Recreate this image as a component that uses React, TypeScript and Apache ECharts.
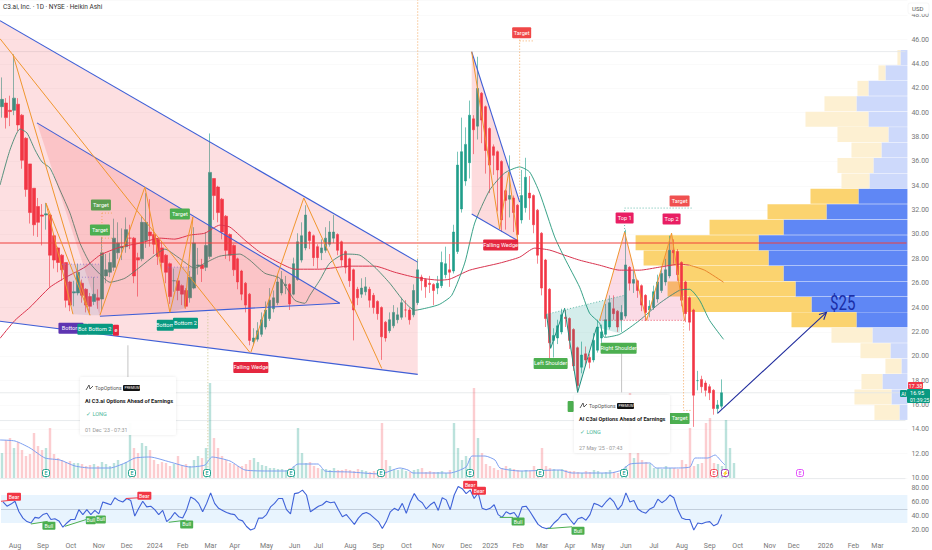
import React, { useEffect, useRef } from "react";
import * as echarts from "echarts";

const FONT = "Roboto, 'Liberation Sans', sans-serif";
const SLOTS = 227;
const UP = "#1f9e8a";
const DOWN = "#f23645";

const monthTicks: [number, string][] = [
  [3, "Aug"], [10, "Sep"], [17, "Oct"], [24, "Nov"], [31, "Dec"], [38, "2024"], [45, "Feb"], [52, "Mar"], [58, "Apr"],
  [66, "May"], [73, "Jun"], [79, "Jul"], [87, "Aug"], [94, "Sep"], [101, "Oct"], [109, "Nov"], [116, "Dec"], [122, "2025"],
  [129, "Feb"], [135, "Mar"], [142, "Apr"], [149, "May"], [156, "Jun"], [163, "Jul"], [170, "Aug"], [177, "Sep"],
  [184, "Oct"], [192, "Nov"], [198, "Dec"], [206, "2026"], [213, "Feb"], [219, "Mar"],
];

// open, close, low, high (Heikin Ashi, one candle per about three sessions)
const candles: number[][] = [
  [40.5,41.1,39.6,42.9],[40.8,39.6,38.7,41.2],[40.2,40.1,38.9,41.4],[40.2,41.2,39.8,44.8],[40.7,39,38.5,41.2],[39.8,36.1,35.4,39.9],
  [37.9,33.7,33.1,38],[35.8,31.8,30.9,35.8],[33.8,30.8,29.9,33.8],[32.3,31,29.8,33],[31.6,31.5,29.1,32.5],[31.6,31.7,30.4,32.6],
  [31.6,28.3,25.7,31.7],[29.9,27.9,27.2,30],[28.9,27.7,26.9,29],[28.3,27.1,26.2,28.4],[27.7,24.6,24,27.7],[26.1,24.2,23.7,26.2],
  [25.2,25.3,24.1,26.2],[25.2,26.9,25,27.6],[26,25,24.4,26.3],[25.5,24.2,23.6,25.6],[24.9,24.1,23.6,25.2],[24.5,25.1,24.2,26.5],
  [24.8,24.6,23.9,25.5],[24.7,28.5,23.7,29.8],[26.6,27.1,26,28.4],[26.9,27.7,26.5,28.5],[27.3,29.7,27,31.3],[28.5,29.3,28,31],
  [28.9,29,27.9,30.5],[29,30.4,28.5,31.4],[29.7,29.7,28.8,30.8],[29.7,26.6,26,29.8],[28.1,27.9,24.9,28.5],[28,31,27.8,31.5],
  [29.5,31,28.9,33.4],[30.2,29.9,29,32.9],[30,29.2,28.4,30.4],[29.6,28.2,27.5,29.7],[28.9,27.7,27.1,29.4],[28.3,26.9,26,28.4],
  [27.6,24.9,24.3,27.7],[26.2,26.2,25.3,27.2],[26.2,25.4,24.6,26.4],[25.8,25.1,24.2,25.9],[25.4,24.1,23.9,25.6],[24.8,26.5,24.4,27],
  [25.6,29.3,25.5,30.6],[27.4,27.5,26.7,28.9],[27.5,27.2,26.1,28],[27.3,29.1,27,30.2],[28.2,35.1,28,38.3],[34.6,33.2,31.2,34.6],
  [33.9,31.8,31,34],[32.9,30.2,29.6,33],[31.5,28.7,28,31.6],[30,28.3,27.8,30.1],[29.1,27.1,26.6,29.2],[28,26.1,25.5,28.1],
  [27,25.1,24.6,27.1],[26,24.2,23.6,26.1],[25.1,21.3,20.9,25.2],[21.2,21.5,20.9,22.3],[21.4,22.1,21.2,22.8],[21.8,23,21.6,23.6],
  [22.4,23.8,22.2,24.5],[23.1,24.6,22.9,25.6],[23.9,24.8,23.6,25.4],[24.4,26.1,24.2,26.7],[25.2,26.3,25,27],[25.8,25.9,25.1,26.6],
  [25.9,24.3,23.8,26],[25.1,27.6,25,28.1],[26.3,29.4,26.2,30.1],[27.9,29.9,27.7,31],[28.9,31.6,28.7,32.4],[30.2,29.5,28.8,30.3],
  [29.9,28.1,27.4,30],[29,28.1,27.2,29.2],[28.5,28.9,27.9,29.6],[28.7,29.7,28.5,30.6],[29.2,30.2,29,31.1],[29.7,30.2,29.3,31.6],
  [30,28.7,28.3,30.1],[29.4,27.9,27.4,29.5],[28.6,27.3,26.8,28.7],[28,26.2,25.7,28.1],[27.1,23.8,21.3,27.2],[25.5,24.8,24.2,25.7],
  [25.1,25.6,24.8,26.4],[25.3,25.7,25,26.5],[25.5,24.6,24,25.7],[25,24,23.5,25.2],[24.5,23.5,23,24.6],[24,21.6,19.7,24.1],
  [22.8,21.5,21.2,22.9],[22.1,23,21.9,23.6],[22.5,23.6,22.3,24.2],[23,23.4,22.7,24],[23.2,24.4,23,24.8],[23.8,23.8,23.2,24.6],
  [23.8,23,22.6,24],[23.4,25.4,23.2,25.9],[24.4,27.1,24.2,28],[26.5,26.2,25.4,26.7],[26.3,25.7,24.8,26.4],[26,25.9,25.2,26.6],
  [25.9,25.4,24.2,26],[25.6,26,25.1,26.6],[25.8,27.7,25.6,28.6],[26.7,27.6,26.4,29],[27.1,26.9,25.7,28.4],[27,30.2,26.8,30.8],
  [28.6,35.7,28.4,36.8],[32.1,36.8,31.8,39.6],[34.4,37.4,34,38.8],[35.9,39.8,34.6,41],[39.5,38.6,36.6,39.8],[38.9,42,37.8,44.6],
  [41.6,39.4,37.5,41.7],[40.5,36.9,35,40.6],[38.7,35.7,33.4,38.8],[37.2,36.5,34.9,37.4],[36.8,35.3,31.9,36.9],[36,31.2,30.2,36.1],
  [33.6,32.8,30.4,33.7],[32.9,33.2,31.4,36.5],[33,31.8,30.2,33.2],[32.4,30,29.6,32.5],[31.2,33.2,30.9,35.3],[32.2,34.7,31.8,36.3],
  [33.4,33,31.2,34.8],[33.2,30.8,30.1,33.3],[32,28.3,27.6,32.1],[30.1,25.6,25,30.2],[27.9,23.1,22.4,28],[25.5,21.1,19.6,25.6],
  [21.3,21.7,19.9,22.3],[21.5,22.5,21,23],[22,23.4,21.8,23.9],[23.2,23.1,22.4,23.8],[23.1,21.3,20.6,23.2],[22.2,19.2,18.8,22.3],
  [20.7,17.6,17.1,20.8],[19.1,20.1,18.6,21.2],[20.2,19.7,19.2,20.8],[19.9,19.5,19,20.2],[19.7,21.3,19.5,21.9],[20.5,22.4,20.3,23],
  [21.5,22,21.1,22.6],[21.8,23,21.6,24.3],[22.4,24.4,22.2,25],[23.9,23.5,23,25],[23.7,22.4,22,23.8],[23,23.6,22,24.2],
  [23.3,27.5,23.1,30.4],[27.3,26,25.4,27.4],[26,26.3,25.2,27],[26.2,25.4,24.8,26.3],[25.8,24.2,23.7,25.9],[25,23.6,22.9,25.1],
  [23.8,24.1,23.2,24.6],[24,25.3,23.8,25.8],[24.7,26.1,24.4,26.7],[25.4,26.8,25.2,27.4],[26.1,27.1,25.8,28],[26.6,28.7,26.4,29.9],
  [28.7,28.5,27.6,29.6],[28.6,26.7,26.2,28.8],[27.7,24.6,24.1,27.8],[26.1,23.5,22.8,26.2],[24.8,22.8,22.1,24.9],[23.8,16.8,14.2,23.9],
  [18,18,17.2,18.8],[18.1,17.5,17,18.4],[17.8,17.2,16.7,18],[17.5,17,16.4,17.7],[17.2,15.7,15.2,17.3],[15.7,16,15.3,16.4],[15.9,17,15.7,18.1],
];

const volumes: number[] = [
  25,38,40,30,36,28,22,24,45,32,28,30,50,24,20,18,16,17,15,15,14,12,13,14,12,16,14,12,15,18,14,16,
  55,30,25,35,32,28,18,14,16,15,12,14,22,13,14,12,18,22,20,30,95,40,30,22,18,15,14,12,12,14,18,20,
  16,13,12,10,10,9,9,8,10,12,50,25,15,16,12,10,9,9,8,10,8,8,9,8,7,9,8,7,6,7,8,55,
  18,12,8,8,9,7,6,8,9,10,6,7,6,6,7,5,8,55,30,18,22,20,90,40,25,14,12,10,8,10,12,10,
  9,8,7,8,7,12,9,30,12,10,9,8,9,8,7,7,6,5,7,6,8,7,5,6,8,6,5,6,12,85,20,25,
  18,16,14,10,10,9,12,10,10,9,18,14,50,12,14,15,55,60,15,14,12,58,30,15,
];

const volumeMa: number[][] = [
  [0,38],[3.75,37],[7.5,30],[11.25,20],[15,18],[18.75,12],[22.5,10],[27.5,10],[31.25,15],[33.75,20],[37.5,21],[42.5,16],[47.5,11],
  [51.25,13],[53,21],[57.5,17],[61.25,8],[67.5,7],[72,7],[74.5,14],[79.5,14],[81.25,7],[87.5,6],[95,4],[100,10],[102,8],[103.25,5],
  [112.5,5],[116.5,11],[118,22],[121.25,22],[123.75,18],[125,10],[130,7],[140,8],[143,5],[152.5,5],[155.5,8],[157.5,14],[162.5,15],
  [164,10],[168.75,10],[172.5,11],[173.75,20],[177,20],[178.75,23],[180.5,16],[181.25,13],
];

const rsi: number[] = [
  60,54,57,61,46,37,32,30,38,37,42,44,35,36,33,24,30,35,35,49,42,49,42,48,43,60,58,56,66,62,60,65,
  62,40,51,61,53,54,49,42,48,32,37,45,39,37,49,67,64,58,46,58,73,58,51,48,45,43,42,35,33,25,20,22,
  37,37,42,53,58,65,65,49,43,72,73,77,70,46,50,54,56,61,59,60,49,39,42,35,28,37,43,45,42,37,32,22,
  32,46,51,48,58,44,60,72,63,59,50,56,60,48,66,63,49,70,82,79,72,77,65,73,51,49,51,56,42,38,46,43,
  45,37,53,54,46,37,28,24,22,23,30,35,42,43,35,28,36,38,34,42,58,56,53,60,66,60,49,56,73,60,62,50,
  46,44,50,53,64,59,63,70,66,49,37,35,35,20,30,29,31,32,26,29,42,
];

const redMaLeft: number[][] = [
  [0,21.47],[3.75,22.95],[7.5,24.02],[12.5,25.67],[16.5,26.49],[21.25,27.32],[25,28.3],[30,28.96],[35,29.29],[40,29.7],[43.75,29.62],
  [47.5,29.95],[51.25,30.11],[55,30.77],[57.5,30.61],[61.25,29.54],[65,28.55],[70,27.65],[73.75,27.15],[80,27.15],[87.5,27.4],
  [93.75,27.4],[98.75,26.9],[103.75,26.49],[110,26.25],[112.5,26.33],[117.5,27.07],[125,27.65],[130,28.14],[133.75,28.88],[137.5,28.72],
  [141.25,28.3],[145,27.89],[150,27.48],[155,27.07],[160,27.07],[165,27.32],[170,27.56],[172.5,27.48],
];
const redMaRight: number[][] = [[172.5,27.48],[176.25,27.07],[181,26.08]];

const greenMa: number[][] = [
  [0,34.06],[2.5,36.95],[5,38.67],[6.75,38.34],[8.75,36.95],[10.5,35.96],[12.5,35.46],[15,33.65],[17.5,31.76],[20,29.29],[22.5,27.65],
  [25,26.74],[27.5,26.08],[31.25,26.41],[35,27.32],[38.75,28.3],[41.25,28.8],[44.5,28.14],[48.75,27.23],[51.25,27.65],[55,28.22],[60,28.39],
  [62.5,27.89],[66.25,26.82],[70,26.41],[73.75,24.6],[76.25,24.35],[77.5,25.0],[80,26.25],[82.5,27.65],[86.25,28.39],[90,28.3],[93.75,27.32],
  [97.5,26],[101.25,24.43],[103.75,23.78],[107.5,24.02],[110,24.27],[113,25],[116.25,27.65],[118.75,30.94],[122.5,33.65],[126.25,35.05],
  [130,35.55],[132.5,35.13],[135,33.41],[138.75,29.8],[141.25,28.06],[145,25.67],[147.5,23.53],[150,22.71],[151.25,21.55],[155,21.8],
  [160,22.95],[165,24.35],[170,25.42],[172.5,25.5],[175,24.6],[177.5,22.95],[181,21.39],
];

// volume profile by price row, bottom to top
const profileLow = [14.77,16.04,17.31,18.57,19.84,21.11,22.38,23.64,24.91,26.18,27.45,28.71,29.98,31.25,32.52,33.78,35.05,36.32,37.59,38.85,40.12,41.39,42.66,43.92];
const profileHigh = [16.0,17.27,18.54,19.8,21.07,22.34,23.61,24.87,26.14,27.41,28.68,29.94,31.21,32.48,33.75,35.01,36.28,37.55,38.82,40.08,41.35,42.62,43.89,45.15];
const profileUp = [8,16,25,6,17,35,51,96,112,124,139,149,124,81,49,38,34,26,19,39,51,39,22,7];
const profileDown = [25,37,21,16,30,41,65,129,128,106,125,123,74,59,48,28,36,30,51,63,32,11,7,3];
const valueAreaFirst = 6;
const valueAreaLast = 14;

const wedgeOuter: number[][][] = [[[0,47.56],[104.5,27.73],[104.5,18.51],[0,22.87]]];
const wedgeInner: number[][][] = [[[9.25,39.17],[85,24.35],[25,23.28]]];
const wedgeRight: number[][][] = [[[118,45.01],[130,32.66],[129.25,29.54],[118,31.68]]];
const doubleTopFill: number[][][] = [[[150,22.95],[156.25,30.2],[161.75,22.95]],[[161.75,22.95],[168,30.11],[171.25,22.95]]];
const headShouldersFill: number[][][] = [[[136.75,23.45],[137.75,20.65],[141.25,23.94],[144.5,17.03],[149.25,22.38],[155,21.88],[156.25,25.01]]];
const bottomFill: number[][][] = [
  [[15.5,27.56],[25,27.56],[25,23.37],[22.5,23.37],[18.25,23.45]],
  [[42,27.32],[48,27.32],[46.25,23.94],[42.5,23.61]],
];

const blueLines: number[][][] = [
  [[0,47.56],[104.5,27.73]],[[0,22.87],[104.5,18.51]],[[9.25,39.17],[85,24.35]],[[25,23.28],[85,24.35]],
  [[118,45.01],[130,32.66]],[[118,31.68],[129.25,29.54]],
];
const orangeLines: number[][][] = [
  [[0,46.08],[62.5,20.32]],[[3.25,44.76],[22.5,23.37]],[[11.5,32.58],[18.25,23.45]],[[11.5,32.58],[22.5,23.37]],
  [[25,23.37],[36.25,33.9],[42.5,23.61],[48.25,31.43],[46.25,23.94]],[[62.75,20.32],[76,33],[95.5,19]],
  [[118,45.01],[125,30.44],[127.25,35.13],[129.5,29.54]],[[150,22.95],[156.25,30.2],[161.75,22.95],[168,30.11],[171.25,22.95]],
];
const tealLines: number[][][] = [[[136.75,23.45],[137.75,20.65],[141.25,23.94],[144.5,17.03],[149.25,22.38]]];
const orangeDots: number[][][] = [
  [[104.5,49.3],[104.5,27.73]],[[130,46],[130,32.8]],[[130,45.9],[133.75,45.9]],[[171,22.95],[171,15.55],[173,15.55]],
  [[25.5,31.76],[28,31.76]],[[25.5,29.7],[28,29.7]],[[25.5,31.76],[25.5,28.2]],
];
const tealDots: number[][][] = [[[156.25,30.2],[156.25,32.17],[173,32.17]],[[136.75,23.45],[156.25,25.01]]];
const redDots: number[][][] = [[[150,22.95],[171.25,22.95]]];
const lavenderDots: number[][][] = [[[15.5,27.56],[25,27.56]],[[20.5,26.49],[25,26.49]],[[42,27.32],[48,27.32]]];
const khakiDots: number[][][] = [[[52,23.53],[52,10]]];
const greyVerticals: number[][][] = [[[32,20.9],[32,18.26]],[[155.5,20.24],[155.5,17.03]]];
const levelLines: number[][][] = [[[0,45.02],[226.5,45.02]],[[0,17.0],[226.5,17.0]],[[0,14.72],[226.5,14.72]],[[0,9.95],[226.5,9.95]]];
const resistance: number[][][] = [[[0,29.3],[226.75,29.3]]];
const arrowLines: number[][][] = [[[179.5,15.3],[206.75,23.61]],[[206.07,23],[206.75,23.61],[204.87,23.43]]];

type Tag = [number, number, string, string, number];
const priceTags: Tag[] = [
  [25.25,32.42,"Target","#5d9e50",20],[25,30.36,"Target","#4caf50",20],[45,31.68,"Target","#4caf50",20],
  [130.5,46.57,"Target","#f04747",19],[125.25,29.13,"Falling Wedge","#e5273f",35],[62.75,19.08,"Falling Wedge","#e5273f",35],
  [17.75,22.3,"Bottom","#5e35b1",25],[29,22.13,"e","#e5273f",6],[20.6,22.22,"Bot","#089981",10],[25,22.22,"Bottom 2","#089981",26],
  [41.35,22.54,"Bottom","#089981",17],[46.4,22.7,"Bottom 2","#089981",25],
  [137.75,19.41,"Left Shoulder","#4caf50",34],[154.75,20.65,"Right Shoulder","#4caf50",36],
  [156.25,31.35,"Top 1","#e91e63",18],[168,31.27,"Top 2","#e91e63",18],[170,32.75,"Target","#f05050",20],
  [170,14.89,"Target","#4caf50",20],[142.75,15.88,"","#4caf50",6],
];

const rsiTags: Tag[] = [
  [3.25,67.4,"Bear","#f23645",14],[12,26,"Bull","#4caf50",13],[22.5,34,"Bull","#4caf50",10],[25,35,"Bull","#4caf50",10],
  [35.9,69,"Bear","#f23645",14],[46.5,28,"Bull","#4caf50",13],[117.5,84.7,"Bear","#f23645",14],[119.7,76,"Bear","#f23645",14],
  [129.5,32,"Bull","#4caf50",13],[144.5,19,"Bull","#4caf50",13],
];
const rsiBullLines: number[][][] = [
  [[7.5,28.6],[11.7,32.3]],[[16,25.3],[22.5,37]],[[42,31],[46.3,34]],[[124.9,38],[128.2,38]],[[136.9,22],[143,24.6]],
];
const rsiBearLines: number[][][] = [[[0,61],[3.5,63]],[[31.25,65],[35.8,66.4]]];

const eventBadges: [number, string, string][] = [
  [11.5,"E","#089981"],[33,"E","#089981"],[51.75,"E","#089981"],[72.75,"E","#089981"],[95.25,"E","#089981"],[117.5,"E","#089981"],
  [135,"E","#089981"],[156,"E","#089981"],[178.5,"E","#f23645"],[181.25,"⚡","#9c27b0"],[200,"E","#e040fb"],
];

const profileRows = profileLow.map((low, i) => [low, profileHigh[i], profileUp[i], profileDown[i]]);

function polygonSeries(list: number[][][], fill: string, z: number) {
  return {
    type: "custom", xAxisIndex: 1, yAxisIndex: 0, z, silent: true,
    encode: { x: 0, y: 1 },
    data: list.map((p) => p[0]),
    renderItem: (params: any, api: any) => ({
      type: "polygon",
      shape: { points: list[params.dataIndex].map((q) => api.coord(q)) },
      style: { fill },
    }),
  };
}

function lineSeries(list: number[][][], stroke: string, lineWidth: number, dash: number[] | null, z: number, xAxisIndex = 1, yAxisIndex = 0) {
  return {
    type: "custom", xAxisIndex, yAxisIndex, z, silent: true,
    encode: { x: 0, y: 1 },
    data: list.map((p) => p[0]),
    renderItem: (params: any, api: any) => ({
      type: "polyline",
      shape: { points: list[params.dataIndex].map((q) => api.coord(q)) },
      style: { stroke, lineWidth, lineDash: dash || undefined, fill: null },
    }),
  };
}

function tagSeries(list: Tag[], z: number, xAxisIndex: number, yAxisIndex: number, h: number, size: number) {
  return {
    type: "custom", xAxisIndex, yAxisIndex, z, silent: true,
    encode: { x: 0, y: 1 },
    data: list.map((t) => [t[0], t[1]]),
    renderItem: (params: any, api: any) => {
      const t = list[params.dataIndex];
      const c = api.coord([t[0], t[1]]);
      const children: any[] = [
        { type: "rect", shape: { x: c[0] - t[4] / 2, y: c[1] - h / 2, width: t[4], height: h, r: 1 }, style: { fill: t[3] } },
      ];
      if (t[2]) {
        children.push({ type: "text", style: { x: c[0], y: c[1], text: t[2], fill: "#fff", font: `${size}px ${FONT}`, align: "center", verticalAlign: "middle" } });
      }
      return { type: "group", children };
    },
  };
}

function maSeries(data: number[][], color: string, xAxisIndex: number, yAxisIndex: number, width: number, z: number) {
  return {
    type: "line", xAxisIndex, yAxisIndex, data, smooth: 0.2, showSymbol: false, silent: true, z,
    lineStyle: { color, width },
  };
}

const cardText = (x: number, y: number, text: string, fill: string, font: string) => ({
  type: "text", x, y, z: 102, silent: true,
  style: { text, fill, font, verticalAlign: "middle" },
});

function card(x: number, y: number, w: number, h: number, title: string, date: string) {
  return [
    { type: "rect", x, y, z: 100, silent: true, shape: { width: w, height: h, r: 2 },
      style: { fill: "rgba(255,255,255,0.96)", shadowBlur: 3, shadowColor: "rgba(0,0,0,0.10)" } },
    { type: "polyline", x, y, z: 102, silent: true, shape: { points: [[6, 13], [9, 8], [10, 12], [13, 9]] }, style: { stroke: "#333", lineWidth: 0.8, fill: null } },
    cardText(x + 15, y + 11, "TopOptions", "#555", `5.2px ${FONT}`),
    { type: "rect", x: x + 43, y: y + 8, z: 102, silent: true, shape: { width: 17, height: 6, r: 1 }, style: { fill: "#111" } },
    cardText(x + 44.5, y + 11, "PREMIUM", "#fff", `3.4px ${FONT}`),
    cardText(x + 5, y + 24, title, "#222", `bold 5.6px ${FONT}`),
    cardText(x + 6, y + 37, "✓ LONG", "#4fb89a", `5.6px ${FONT}`),
    cardText(x + 5, y + 53, date, "#999", `5.4px ${FONT}`),
  ];
}

const priceBadge = (x: number, y: number, w: number, h: number, fill: string) => ({
  type: "rect", x, y, z: 110, silent: true, shape: { width: w, height: h, r: 1 }, style: { fill },
});

export default function App() {
  const ref = useRef<HTMLDivElement>(null);
  useEffect(() => {
    if (!ref.current) return;
    const chart = echarts.init(ref.current, undefined, { renderer: "svg" });
    const labels = new Map(monthTicks);
    const categories = Array.from({ length: SLOTS }, (_, i) => labels.get(i) || "");
    const slotAxis = (gridIndex: number) => ({ type: "category", gridIndex, data: categories, show: false, boundaryGap: true });
    const barAxis = (gridIndex: number) => ({ type: "value", gridIndex, min: 0, max: SLOTS, show: false });
    const volumeData = volumes.map((v, i) => {
      const c = candles[i] || [0, 0];
      return { value: v, itemStyle: { color: c[1] >= c[0] ? "rgba(31,158,138,0.30)" : "rgba(242,54,69,0.25)" } };
    });

    chart.setOption({
      animation: false,
      backgroundColor: "#ffffff",
      textStyle: { fontFamily: FONT },
      grid: [
        { left: 0, top: 0, width: 908, height: 478 },
        { left: 0, top: 380, width: 908, height: 98 },
        { left: 0, top: 480, width: 908, height: 64 },
      ],
      xAxis: [
        slotAxis(0),
        barAxis(0),
        { type: "value", gridIndex: 0, min: 0, max: 908, inverse: true, show: false },
        slotAxis(1),
        barAxis(1),
        {
          type: "category", gridIndex: 2, data: categories, boundaryGap: true,
          axisLine: { show: false }, axisTick: { show: false },
          axisLabel: { interval: 0, color: "#777", fontSize: 7, margin: -2, hideOverlap: false },
        },
        barAxis(2),
      ],
      yAxis: [
        {
          type: "value", gridIndex: 0, position: "right", min: 10, max: 49.26, interval: 2,
          axisLine: { show: false }, axisTick: { show: false },
          axisLabel: { color: "#777", fontSize: 7, margin: 4, formatter: (v: number) => (v > 48 ? "" : v.toFixed(2)) },
          splitLine: { show: true, lineStyle: { color: "#fafafa", width: 1 } },
        },
        { type: "value", gridIndex: 1, min: 0, max: 98, show: false },
        {
          type: "value", gridIndex: 2, position: "right", min: 0, max: 91.4, interval: 20,
          axisLine: { show: false }, axisTick: { show: false }, splitLine: { show: false },
          axisLabel: { color: "#777", fontSize: 7, margin: 4, formatter: (v: number) => (v > 0 && v <= 80 ? v.toFixed(2) : "") },
        },
      ],
      graphic: [
        { type: "text", x: 3, y: 7, z: 110, silent: true, style: { text: "C3.ai, Inc. · 1D · NYSE · Heikin Ashi", fill: "#333", font: `6.5px ${FONT}`, verticalAlign: "middle" } },
        { type: "rect", x: 908, y: 3, z: 110, silent: true, shape: { width: 21, height: 11, r: 2 }, style: { fill: "#fff", stroke: "#eee", lineWidth: 0.5 } },
        { type: "text", x: 912, y: 8, z: 111, silent: true, style: { text: "USD", fill: "#555", font: `6px ${FONT}`, verticalAlign: "middle" } },
        { type: "text", x: 830, y: 303, z: 60, silent: true, scaleX: 0.72, style: { text: "$25", fill: "#1a2fa8", font: `21px ${FONT}`, verticalAlign: "middle" } },
        ...card(80, 377, 96, 58, "AI C3.ai Options Ahead of Earnings", "01 Dec '23 - 07:31"),
        ...card(574, 395, 96, 58, "AI C3ai Options Ahead of Earnings", "27 May '25 - 07:43"),
        priceBadge(908, 382, 15, 7, "#f23645"),
        { type: "text", x: 915.5, y: 385.5, z: 111, silent: true, style: { text: "17.38", fill: "#fff", font: `5.6px ${FONT}`, align: "center", verticalAlign: "middle" } },
        priceBadge(900, 390, 7, 7, "#089981"),
        { type: "text", x: 903.5, y: 393.5, z: 111, silent: true, style: { text: "AI", fill: "#fff", font: `5px ${FONT}`, align: "center", verticalAlign: "middle" } },
        priceBadge(907, 389, 23, 14, "#089981"),
        { type: "text", x: 910, y: 393, z: 111, silent: true, style: { text: "16.95", fill: "#fff", font: `5.6px ${FONT}`, verticalAlign: "middle" } },
        { type: "text", x: 910, y: 399.5, z: 111, silent: true, style: { text: "01:39:25", fill: "#fff", font: `5px ${FONT}`, verticalAlign: "middle" } },
      ],
      series: [
        {
          type: "custom", name: "Volume profile", xAxisIndex: 2, yAxisIndex: 0, z: 1, silent: true,
          encode: { x: 2, y: 0 },
          data: profileRows,
          renderItem: (params: any, api: any) => {
            const [low, high, up, down] = profileRows[params.dataIndex];
            const strong = params.dataIndex >= valueAreaFirst && params.dataIndex <= valueAreaLast;
            const a0 = api.coord([0, low]);
            const a1 = api.coord([up, high]);
            const a2 = api.coord([up + down, high]);
            return {
              type: "group",
              children: [
                { type: "rect", shape: { x: a1[0], y: a1[1], width: a0[0] - a1[0], height: a0[1] - a1[1] }, style: { fill: strong ? "#5f87f5" : "#cdd9fb" } },
                { type: "rect", shape: { x: a2[0], y: a2[1], width: a1[0] - a2[0], height: a0[1] - a1[1] }, style: { fill: strong ? "#fbd36f" : "#fdf0d2" } },
              ],
            };
          },
        },
        { type: "bar", name: "Volume", xAxisIndex: 3, yAxisIndex: 1, data: volumeData, barWidth: 2.4, silent: true, z: 2 },
        maSeries(volumeMa, "#7d9ff0", 4, 1, 1, 3),
        lineSeries(levelLines, "#e2e6e8", 0.8, null, 2),
        lineSeries(greyVerticals, "#c4c4c4", 1, null, 3),
        {
          type: "candlestick", name: "C3.ai", xAxisIndex: 0, yAxisIndex: 0, data: candles, barWidth: 2.8, silent: true, z: 5,
          itemStyle: { color: UP, color0: DOWN, borderColor: UP, borderColor0: DOWN, borderWidth: 0.6 },
        },
        maSeries(redMaLeft, "#d8344f", 1, 0, 1, 6),
        maSeries(redMaRight, "#e8862e", 1, 0, 1, 6),
        maSeries(greenMa, "#22977a", 1, 0, 0.9, 6),
        polygonSeries(wedgeOuter, "rgba(242,54,69,0.16)", 7),
        polygonSeries(wedgeInner, "rgba(242,54,69,0.16)", 7),
        polygonSeries(wedgeRight, "rgba(242,54,69,0.18)", 7),
        polygonSeries(doubleTopFill, "rgba(233,30,99,0.16)", 7),
        polygonSeries(headShouldersFill, "rgba(0,150,136,0.17)", 7),
        polygonSeries(bottomFill, "rgba(110,110,170,0.16)", 7),
        lineSeries(resistance, "#f0403c", 1.1, null, 8),
        lineSeries(blueLines, "#3f5fd6", 1.1, null, 9),
        lineSeries(orangeLines, "#f0962e", 1, null, 9),
        lineSeries(tealLines, "#1f8f7f", 1, null, 9),
        lineSeries(orangeDots, "#f4a860", 1, [1, 2], 9),
        lineSeries(tealDots, "#3aa893", 0.8, [1, 2], 9),
        lineSeries(redDots, "#e5273f", 0.8, [1, 2], 9),
        lineSeries(lavenderDots, "#9575cd", 0.8, [1, 2], 9),
        lineSeries(khakiDots, "#c9c48a", 1, [1, 2], 9),
        lineSeries(arrowLines, "#1e2a9c", 1.1, null, 12),
        tagSeries(priceTags, 20, 1, 0, 11, 5.6),
        {
          type: "custom", name: "Events", xAxisIndex: 4, yAxisIndex: 1, z: 20, silent: true,
          encode: { x: 0, y: 1 },
          data: eventBadges.map((e) => [e[0], 5]),
          renderItem: (params: any, api: any) => {
            const e = eventBadges[params.dataIndex];
            const c = api.coord([e[0], 5]);
            return {
              type: "group",
              children: [
                { type: "rect", shape: { x: c[0] - 3.5, y: c[1] - 3.5, width: 7, height: 7, r: 2 }, style: { fill: "#fff", stroke: e[2], lineWidth: 0.9 } },
                { type: "text", style: { x: c[0], y: c[1], text: e[1], fill: e[2], font: `5.4px ${FONT}`, align: "center", verticalAlign: "middle" } },
              ],
            };
          },
        },
        {
          type: "line", name: "RSI", xAxisIndex: 5, yAxisIndex: 2, data: rsi, showSymbol: false, silent: true, z: 5,
          lineStyle: { color: "#3f62d8", width: 1.1 },
          markArea: { silent: true, itemStyle: { color: "rgba(33,150,243,0.10)" }, data: [[{ yAxis: 30 }, { yAxis: 70 }]] },
          markLine: { silent: true, symbol: "none", label: { show: false }, lineStyle: { color: "#b8c4d2", type: "solid", width: 0.8 }, data: [{ yAxis: 50 }] },
        },
        lineSeries(rsiBullLines, "#4caf50", 1, null, 6, 6, 2),
        lineSeries(rsiBearLines, "#f23645", 1, null, 6, 6, 2),
        tagSeries(rsiTags, 20, 6, 2, 8, 5.2),
      ],
    });
    return () => chart.dispose();
  }, []);
  return <div ref={ref} style={{ position: "fixed", left: 0, top: 0, width: 932, height: 550 }} />;
}
